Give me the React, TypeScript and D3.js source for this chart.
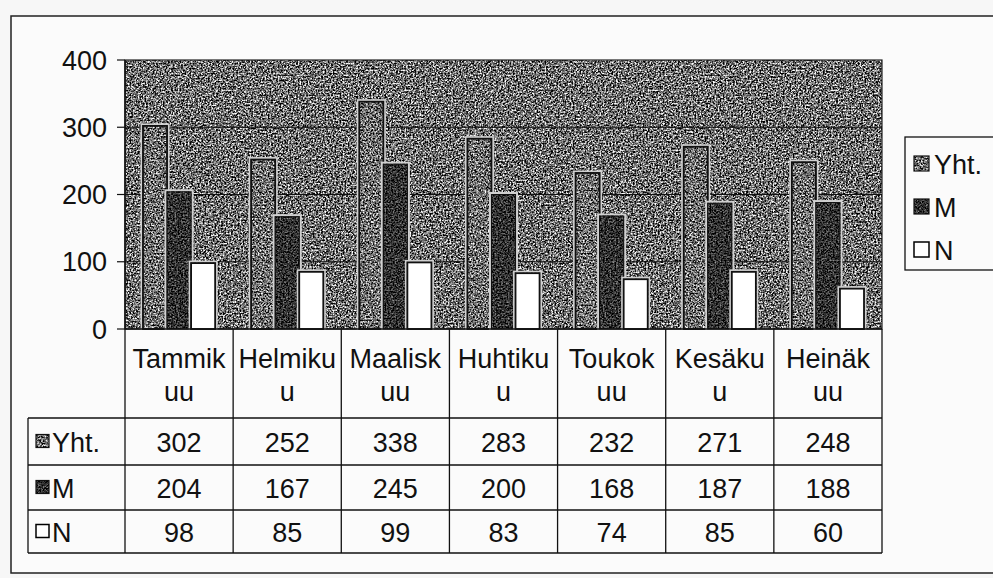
import React from "react";
import * as d3 from "d3";

const categories = ["Tammikuu", "Helmikuu", "Maaliskuu", "Huhtikuu", "Toukokuu", "Kesäkuu", "Heinäkuu"];
const categoryLines = [
  ["Tammik", "uu"],
  ["Helmiku", "u"],
  ["Maalisk", "uu"],
  ["Huhtiku", "u"],
  ["Toukok", "uu"],
  ["Kesäku", "u"],
  ["Heinäk", "uu"],
];
const seriesNames = ["Yht.", "M", "N"];
const yhtValues = [302, 252, 338, 283, 232, 271, 248];
const mValues = [204, 167, 245, 200, 168, 187, 188];
const nValues = [98, 85, 99, 83, 74, 85, 60];
const yTicks = [0, 100, 200, 300, 400];

const W = 993;
const H = 578;
const plot = { left: 125, right: 882, top: 60, bottom: 329 };
const tableRows = [418, 465, 510, 553];
const keyLeft = 28;
const FONT = "'Liberation Sans', Arial, sans-serif";
const FS = 27;

function noiseFilter(id: string, mean: number, contrast: number, seed: number, freq: number) {
  const b = mean - contrast * 0.5;
  const row = `${contrast} 0 0 0 ${b}`;
  const values = `${row} ${row} ${row} 0 0 0 0 1`;
  return (
    <filter id={id} x="0" y="0" width="1" height="1" colorInterpolationFilters="sRGB">
      <feTurbulence type="fractalNoise" baseFrequency={freq} numOctaves={2} seed={seed} result="n" />
      <feColorMatrix in="n" type="matrix" values={values} result="g" />
      <feComposite in="g" in2="SourceAlpha" operator="in" />
    </filter>
  );
}

export default function App() {
  const seriesValues = [yhtValues, mValues, nValues];
  const x0 = d3.scaleBand<string>().domain(categories).range([plot.left, plot.right]).paddingInner(0).paddingOuter(0);
  const step = x0.bandwidth();
  const x1 = d3.scaleBand<string>().domain(seriesNames).range([18, step - 18]).padding(0);
  const y = d3.scaleLinear().domain([0, 400]).range([plot.bottom, plot.top]);

  const keySwatch = (i: number, x: number, yy: number, s: number) => {
    if (i === 2) return <rect x={x} y={yy} width={s} height={s} fill="#fff" stroke="#000" strokeWidth={1.5} />;
    return (
      <g>
        <rect x={x} y={yy} width={s} height={s} fill="#000" filter={i === 0 ? "url(#fYhtF)" : "url(#fMF)"} />
        <rect x={x} y={yy} width={s} height={s} fill="none" stroke="#111" strokeWidth={1.2} />
      </g>
    );
  };

  return (
    <svg width={W} height={H} style={{ position: "absolute", left: 0, top: 0, background: "#f7f7f7" }} fontFamily={FONT}>
      <defs>
        {noiseFilter("bgF", 0.43, 2.4, 2, 0.6)}
        {noiseFilter("fYhtF", 0.43, 2.2, 7, 0.6)}
        {noiseFilter("fMF", 0.19, 1.2, 11, 0.6)}
      </defs>
      {/* outer frame */}
      <rect x={11} y={16} width={1000} height={557} fill="#fbfbfb" stroke="#222" strokeWidth={1.5} />

      {/* plot background */}
      <rect x={plot.left} y={plot.top} width={plot.right - plot.left} height={plot.bottom - plot.top} fill="#000" filter="url(#bgF)" />
      <rect x={plot.left} y={plot.top} width={plot.right - plot.left} height={plot.bottom - plot.top} fill="none" stroke="#222" strokeWidth={1.2} />

      {/* gridlines */}
      {yTicks.filter((t) => t > 0 && t < 400).map((t) => (
        <line key={t} x1={plot.left} x2={plot.right} y1={y(t)} y2={y(t)} stroke="#111" strokeWidth={1.2} />
      ))}

      {/* bars */}
      {categories.map((c, ci) => (
        <g key={c}>
          {seriesNames.map((s, si) => {
            const v = seriesValues[si][ci];
            const bx = (x0(c) as number) + (x1(s) as number);
            const bw = x1.bandwidth();
            const by = y(v);
            const bh = y(0) - y(v);
            return (
              <g key={s}>
                <rect x={bx - 1.5} y={by - 1.5} width={bw + 3} height={bh + 1.5} fill="none" stroke="#d0d0d0" strokeWidth={2} />
                {si === 2 ? (
                  <rect x={bx} y={by} width={bw} height={bh} fill="#fff" />
                ) : (
                  <rect x={bx} y={by} width={bw} height={bh} fill="#000" filter={si === 0 ? "url(#fYhtF)" : "url(#fMF)"} />
                )}
                <rect x={bx} y={by} width={bw} height={bh} fill="none" stroke="#111" strokeWidth={si === 1 ? 1 : 1.8} />
              </g>
            );
          })}
        </g>
      ))}

      {/* y axis */}
      <line x1={plot.left} x2={plot.left} y1={plot.top} y2={plot.bottom} stroke="#111" strokeWidth={1.5} />
      {yTicks.map((t) => (
        <g key={t}>
          <line x1={plot.left - 8} x2={plot.left} y1={y(t)} y2={y(t)} stroke="#111" strokeWidth={1.2} />
          <text x={plot.left - 18} y={y(t)} dy="0.36em" textAnchor="end" fontSize={FS} fill="#111">
            {t}
          </text>
        </g>
      ))}

      {/* data table */}
      <line x1={plot.left} x2={plot.right} y1={plot.bottom} y2={plot.bottom} stroke="#111" strokeWidth={1.5} />
      {d3.range(categories.length + 1).map((i) => {
        const xx = plot.left + i * step;
        return <line key={i} x1={xx} x2={xx} y1={plot.bottom} y2={tableRows[3]} stroke="#111" strokeWidth={1.3} />;
      })}
      <line x1={keyLeft} x2={keyLeft} y1={tableRows[0]} y2={tableRows[3]} stroke="#111" strokeWidth={1.3} />
      {tableRows.map((ry, i) => (
        <line key={i} x1={keyLeft} x2={plot.right} y1={ry} y2={ry} stroke="#111" strokeWidth={1.3} />
      ))}
      {categories.map((c, ci) => (
        <g key={c}>
          {categoryLines[ci].map((ln, li) => (
            <text key={li} x={(x0(c) as number) + step / 2} y={368 + li * 33} textAnchor="middle" fontSize={FS} fill="#111">
              {ln}
            </text>
          ))}
          {seriesValues.map((vals, si) => (
            <text key={si} x={(x0(c) as number) + step / 2} y={(tableRows[si] + tableRows[si + 1]) / 2} dy="0.38em" textAnchor="middle" fontSize={FS} fill="#111">
              {vals[ci]}
            </text>
          ))}
        </g>
      ))}
      {seriesNames.map((s, si) => {
        const cy = (tableRows[si] + tableRows[si + 1]) / 2;
        return (
          <g key={s}>
            {keySwatch(si, 36, cy - 7, 13)}
            <text x={52} y={cy} dy="0.38em" fontSize={FS} fill="#111">
              {s}
            </text>
          </g>
        );
      })}

      {/* legend */}
      <rect x={905} y={137} width={100} height={133} fill="#fbfbfb" stroke="#111" strokeWidth={1.3} />
      {seriesNames.map((s, si) => {
        const cy = 164 + si * 43;
        return (
          <g key={s}>
            {keySwatch(si, 914, cy - 8, 15)}
            <text x={934} y={cy} dy="0.38em" fontSize={FS} fill="#111">
              {s}
            </text>
          </g>
        );
      })}
    </svg>
  );
}
